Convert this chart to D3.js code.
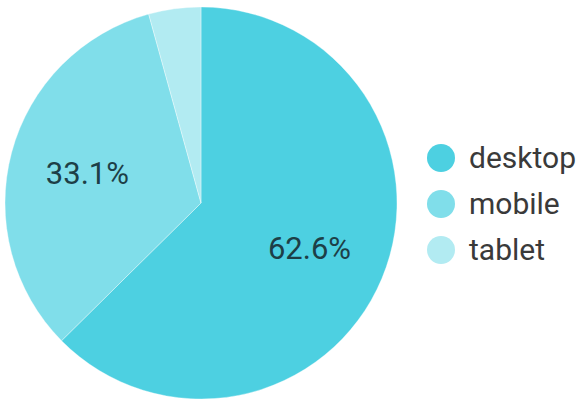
<!DOCTYPE html>
<html><head><meta charset="utf-8">
<script src="https://cdn.jsdelivr.net/npm/d3@7"></script>
<style>body{margin:0;background:#fff;}svg{display:block;}</style>
</head><body>
<svg id="chart" width="586" height="406"></svg>
<script>
const categories = ["desktop", "mobile", "tablet"];
const values = [62.6, 33.1, 4.3];
const colors = ["#4dd0e1", "#80deea", "#b2ebf2"];

const svg = d3.select("#chart");
const cx = 201, cy = 203, r = 196;
const data = categories.map((c, i) => ({cat: c, value: values[i], color: colors[i]}));
const pie = d3.pie().value(d => d.value).sort(null);
const arcs = pie(data);
const arc = d3.arc().innerRadius(0).outerRadius(r);
const labelArc = d3.arc().innerRadius(r * 0.6).outerRadius(r * 0.6);

const g = svg.append("g").attr("transform", `translate(${cx},${cy})`);
g.selectAll("path").data(arcs).enter().append("path")
  .attr("d", arc).attr("fill", d => d.data.color)
  .attr("stroke", "#fff").attr("stroke-opacity", 0.5).attr("stroke-width", 0.7);

g.selectAll("text").data(arcs.filter(d => d.data.value > 10)).enter().append("text")
  .attr("transform", d => `translate(${labelArc.centroid(d)})`)
  .attr("text-anchor", "middle").attr("dy", "0.35em")
  .style("font-family", "Roboto, sans-serif").style("font-size", "31px")
  .attr("fill", "#1d3f47")
  .text(d => d.data.value.toFixed(1) + "%");

const legend = svg.append("g");
const ly = d3.scalePoint().domain(categories).range([158, 250]);
const items = legend.selectAll("g").data(data).enter().append("g")
  .attr("transform", d => `translate(441,${ly(d.cat)})`);
items.append("circle").attr("r", 14).attr("fill", d => d.color);
items.append("text").attr("x", 28).attr("y", 10)
  .style("font-family", "Roboto, sans-serif").style("font-size", "30px")
  .attr("fill", "#3a3a3a").text(d => d.cat);
</script>
</body></html>
